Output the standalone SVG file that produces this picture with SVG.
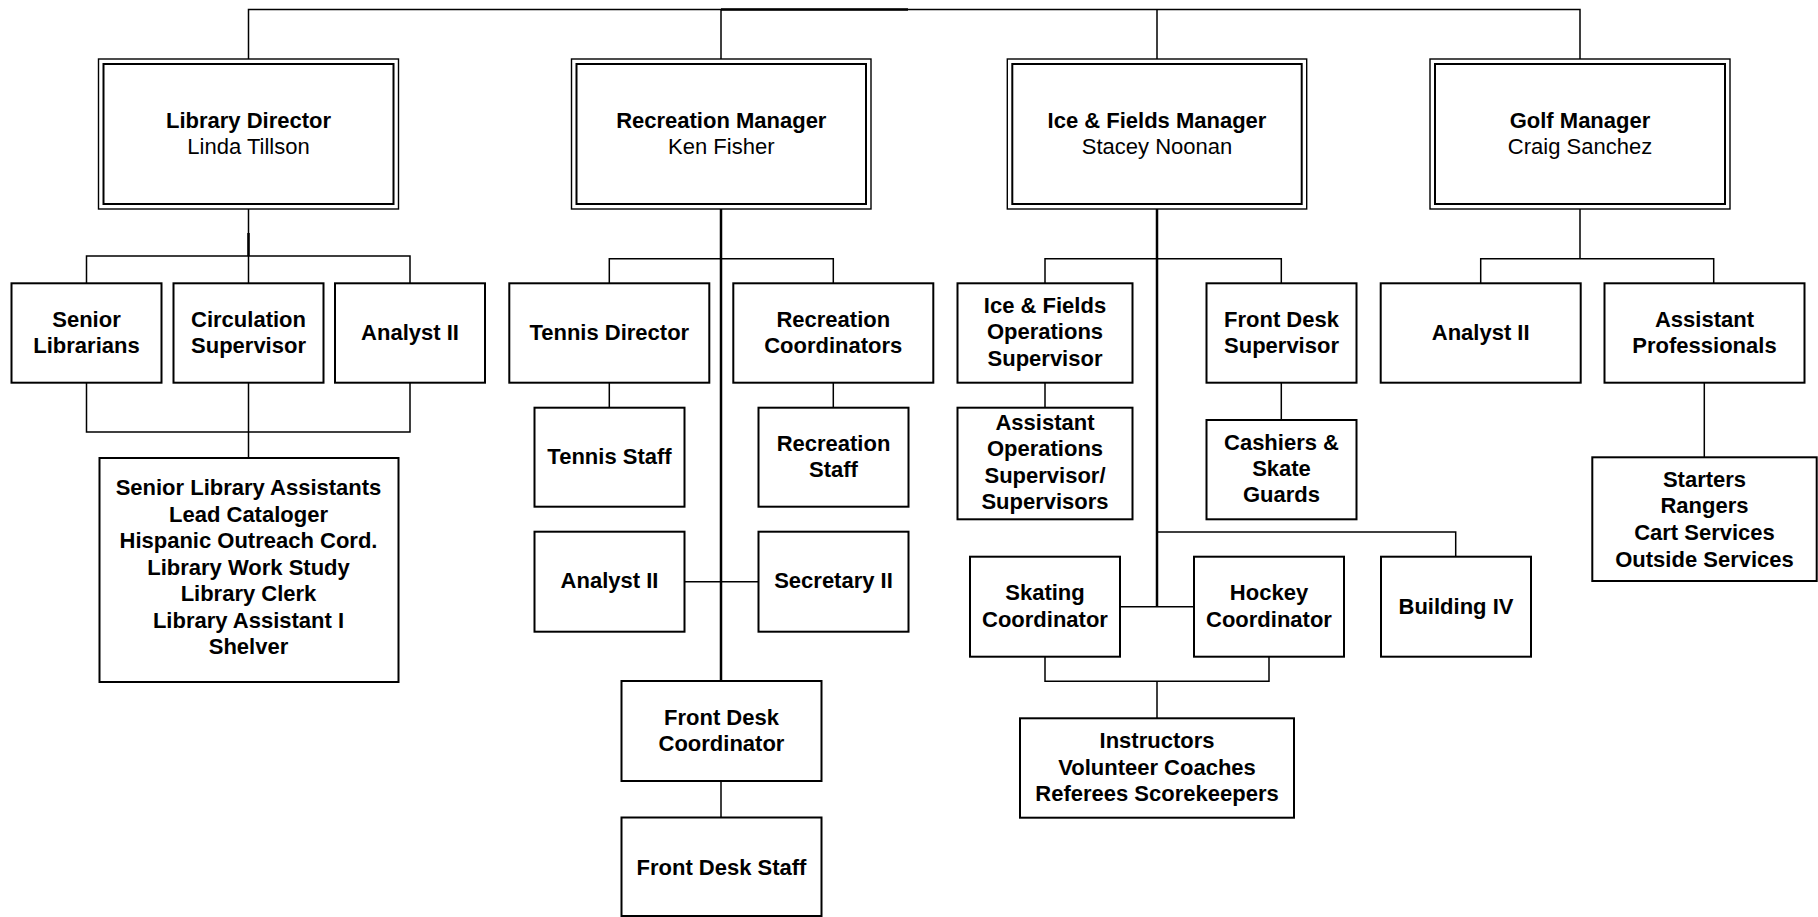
<svg xmlns="http://www.w3.org/2000/svg" width="1818" height="917" viewBox="0 0 1818 917">
<style>
text{font-family:"Liberation Sans",Arial,Helvetica,sans-serif;font-size:22px;fill:#000;text-anchor:middle}
.b{font-weight:bold}
.n{font-weight:normal}
.box{fill:#fff;stroke:#000;stroke-width:2}
.outer{fill:#fff;stroke:#000;stroke-width:1.4}
.inner{fill:none;stroke:#000;stroke-width:2}
.c{fill:none;stroke:#000;stroke-width:1.5}
.t{fill:none;stroke:#000;stroke-width:2.5}
</style>
<rect width="1818" height="917" fill="#fff"/>
<g id="connectors">
<path class="c" d="M248.5 59V9.5H1580V59M721 9.5V59M1157 9.5V59"/>
<path class="t" d="M721 9.5H908"/>
<!-- Library -->
<path class="c" d="M248.5 209V256M86.5 283V256H410V283M248.5 256V283"/>
<path class="t" d="M248.5 233V256"/>
<path class="c" d="M86.5 383V432H410V383M248.5 383V458"/>
<!-- Recreation -->
<path class="t" d="M721 209V681"/>
<path class="c" d="M609.3 283.3V258.7H833.3V283.3M609.3 383V407.7M833.3 383V407.7M684.5 581.7H758.5M721 781V817.5"/>
<!-- Ice -->
<path class="t" d="M1157 209V606.7"/>
<path class="c" d="M1045 283.3V258.7H1281.3V283.3M1045 383V407.7M1281.3 383V420M1157 532H1455.7V556.7M1120 606.7H1194M1045 656.7V681.3H1269V656.7M1157 681.3V718.3"/>
<!-- Golf -->
<path class="c" d="M1580 209V258.7M1480.7 283.3V258.7H1713.7V283.3M1704.3 383V457.3"/>
</g>
<g id="lib-mgr">
<rect class="outer" x="98.5" y="59" width="300" height="150"/>
<rect class="inner" x="103.5" y="64" width="290" height="140"/>
<text x="248.5" y="127.7" class="b">Library Director</text>
<text x="248.5" y="154" class="n">Linda Tillson</text>
</g>
<g id="rec-mgr">
<rect class="outer" x="571.5" y="59" width="299.5" height="150"/>
<rect class="inner" x="576.5" y="64" width="289.5" height="140"/>
<text x="721.3" y="127.7" class="b">Recreation Manager</text>
<text x="721.3" y="154" class="n">Ken Fisher</text>
</g>
<g id="ice-mgr">
<rect class="outer" x="1007.3" y="59" width="299.4" height="150"/>
<rect class="inner" x="1012.3" y="64" width="289.4" height="140"/>
<text x="1157" y="127.7" class="b">Ice &amp; Fields Manager</text>
<text x="1157" y="154" class="n">Stacey Noonan</text>
</g>
<g id="golf-mgr">
<rect class="outer" x="1430" y="59" width="300" height="150"/>
<rect class="inner" x="1435" y="64" width="290" height="140"/>
<text x="1580" y="127.7" class="b">Golf Manager</text>
<text x="1580" y="154" class="n">Craig Sanchez</text>
</g>
<g id="senior-librarians">
<rect class="box" x="11.5" y="283.3" width="150" height="99.4"/>
<text class="b" x="86.5" y="326.5">Senior<tspan x="86.5" dy="26.5">Librarians</tspan></text>
</g>
<g id="circulation-supervisor">
<rect class="box" x="173.5" y="283.3" width="150" height="99.4"/>
<text class="b" x="248.5" y="326.5">Circulation<tspan x="248.5" dy="26.5">Supervisor</tspan></text>
</g>
<g id="lib-analyst">
<rect class="box" x="335" y="283.3" width="150" height="99.4"/>
<text class="b" x="410" y="339.5">Analyst II</text>
</g>
<g id="lib-staff">
<rect class="box" x="99.5" y="458" width="299" height="224"/>
<text class="b" x="248.5" y="495">Senior Library Assistants<tspan x="248.5" dy="26.55">Lead Cataloger</tspan><tspan x="248.5" dy="26.55">Hispanic Outreach Cord.</tspan><tspan x="248.5" dy="26.55">Library Work Study</tspan><tspan x="248.5" dy="26.55">Library Clerk</tspan><tspan x="248.5" dy="26.55">Library Assistant I</tspan><tspan x="248.5" dy="26.55">Shelver</tspan></text>
</g>
<g id="tennis-director">
<rect class="box" x="509.3" y="283.3" width="200" height="99.4"/>
<text class="b" x="609.3" y="339.5">Tennis Director</text>
</g>
<g id="recreation-coordinators">
<rect class="box" x="733.3" y="283.3" width="200" height="99.4"/>
<text class="b" x="833.3" y="326.5">Recreation<tspan x="833.3" dy="26.5">Coordinators</tspan></text>
</g>
<g id="tennis-staff">
<rect class="box" x="534.5" y="407.7" width="150" height="99"/>
<text class="b" x="609.5" y="463.7">Tennis Staff</text>
</g>
<g id="recreation-staff">
<rect class="box" x="758.5" y="407.7" width="150" height="99"/>
<text class="b" x="833.5" y="450.5">Recreation<tspan x="833.5" dy="26.5">Staff</tspan></text>
</g>
<g id="rec-analyst">
<rect class="box" x="534.5" y="531.7" width="150" height="100"/>
<text class="b" x="609.5" y="588">Analyst II</text>
</g>
<g id="secretary">
<rect class="box" x="758.5" y="531.7" width="150" height="100"/>
<text class="b" x="833.5" y="588">Secretary II</text>
</g>
<g id="front-desk-coordinator">
<rect class="box" x="621.5" y="681" width="200" height="100"/>
<text class="b" x="721.5" y="724.5">Front Desk<tspan x="721.5" dy="26.5">Coordinator</tspan></text>
</g>
<g id="front-desk-staff">
<rect class="box" x="621.5" y="817.5" width="200" height="98.5"/>
<text class="b" x="721.5" y="874.5">Front Desk Staff</text>
</g>
<g id="ice-ops-supervisor">
<rect class="box" x="957.5" y="283.3" width="175" height="99.4"/>
<text class="b" x="1045" y="312.5">Ice &amp; Fields<tspan x="1045" dy="26.5">Operations</tspan><tspan x="1045" dy="26.5">Supervisor</tspan></text>
</g>
<g id="front-desk-supervisor">
<rect class="box" x="1206.5" y="283.3" width="150" height="99.4"/>
<text class="b" x="1281.5" y="326.5">Front Desk<tspan x="1281.5" dy="26.5">Supervisor</tspan></text>
</g>
<g id="asst-ops">
<rect class="box" x="957.5" y="407.7" width="175" height="111.6"/>
<text class="b" x="1045" y="429.8">Assistant<tspan x="1045" dy="26.5">Operations</tspan><tspan x="1045" dy="26.5">Supervisor/</tspan><tspan x="1045" dy="26.5">Supervisors</tspan></text>
</g>
<g id="cashiers">
<rect class="box" x="1206.5" y="420" width="150" height="99.3"/>
<text class="b" x="1281.5" y="449.5">Cashiers &amp;<tspan x="1281.5" dy="26.2">Skate</tspan><tspan x="1281.5" dy="26.2">Guards</tspan></text>
</g>
<g id="skating-coordinator">
<rect class="box" x="970" y="556.7" width="150" height="100"/>
<text class="b" x="1045" y="600.3">Skating<tspan x="1045" dy="26.5">Coordinator</tspan></text>
</g>
<g id="hockey-coordinator">
<rect class="box" x="1194" y="556.7" width="150" height="100"/>
<text class="b" x="1269" y="600.3">Hockey<tspan x="1269" dy="26.5">Coordinator</tspan></text>
</g>
<g id="building">
<rect class="box" x="1381" y="556.7" width="150" height="100"/>
<text class="b" x="1456" y="613.5">Building IV</text>
</g>
<g id="instructors">
<rect class="box" x="1020" y="718.3" width="274" height="99.4"/>
<text class="b" x="1157" y="748.3">Instructors<tspan x="1157" dy="26.4">Volunteer Coaches</tspan><tspan x="1157" dy="26.4">Referees Scorekeepers</tspan></text>
</g>
<g id="golf-analyst">
<rect class="box" x="1380.7" y="283.3" width="200" height="99.4"/>
<text class="b" x="1480.7" y="339.5">Analyst II</text>
</g>
<g id="assistant-professionals">
<rect class="box" x="1604.5" y="283.3" width="200" height="99.4"/>
<text class="b" x="1704.5" y="326.5">Assistant<tspan x="1704.5" dy="26.5">Professionals</tspan></text>
</g>
<g id="starters">
<rect class="box" x="1592.3" y="457.3" width="224.4" height="123.7"/>
<text class="b" x="1704.5" y="486.7">Starters<tspan x="1704.5" dy="26.6">Rangers</tspan><tspan x="1704.5" dy="26.6">Cart Services</tspan><tspan x="1704.5" dy="26.6">Outside Services</tspan></text>
</g>
</svg>
